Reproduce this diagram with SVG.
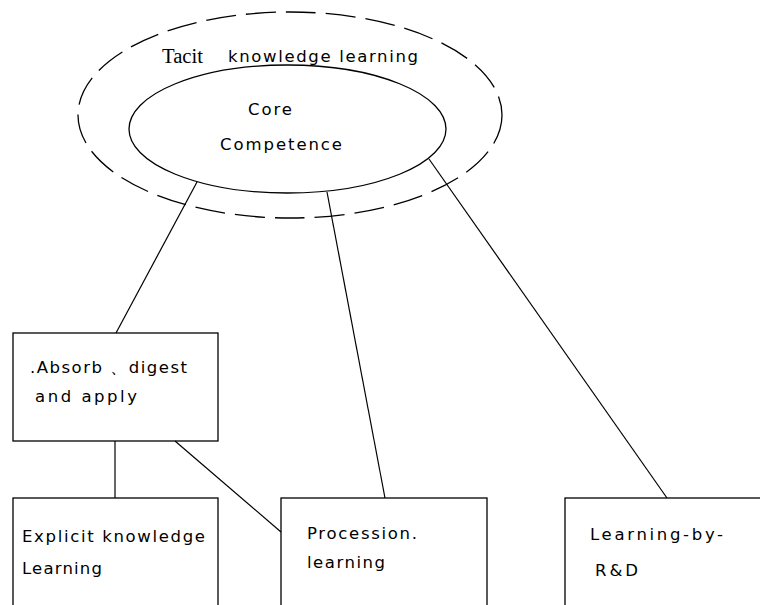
<svg xmlns="http://www.w3.org/2000/svg" width="760" height="605" viewBox="0 0 760 605">
<style>
.shape{fill:none;stroke:#000;stroke-width:1.3}
.dash{fill:none;stroke:#000;stroke-width:1.3;stroke-dasharray:30 10}
.conn line{stroke:#000;stroke-width:1.2}
.t{font-family:"DejaVu Sans","Liberation Sans",sans-serif;font-size:16.5px;fill:#000}
.s{font-family:"Liberation Serif","Times New Roman",serif;font-size:20px;fill:#000}
</style>
<rect width="760" height="605" fill="#fff"/>
<g id="tacit">
<ellipse class="dash" cx="290" cy="115" rx="212" ry="103"/>
<text class="s" x="162" y="63" textLength="41" lengthAdjust="spacingAndGlyphs">Tacit</text>
<text class="t" x="228" y="62" textLength="190" lengthAdjust="spacing">knowledge learning</text>
</g>
<g id="core">
<ellipse class="shape" cx="287.5" cy="129" rx="158.5" ry="64"/>
<text class="t" x="248" y="115" textLength="44" lengthAdjust="spacing">Core</text>
<text class="t" x="220" y="150" textLength="122" lengthAdjust="spacing">Competence</text>
</g>
<g id="conn" class="conn">
<line x1="197" y1="182" x2="116" y2="333"/>
<line x1="327" y1="192" x2="385" y2="498"/>
<line x1="429" y1="159" x2="667" y2="498"/>
<line x1="115" y1="441" x2="115" y2="498"/>
<line x1="175" y1="441" x2="281" y2="532"/>
</g>
<g id="absorb">
<rect class="shape" x="13" y="333" width="205" height="108"/>
<text class="t" x="30" y="373" textLength="157" lengthAdjust="spacing">.Absorb 、digest</text>
<text class="t" x="35" y="402" textLength="102" lengthAdjust="spacing">and apply</text>
</g>
<g id="explicit">
<rect class="shape" x="13" y="498" width="205" height="120"/>
<text class="t" x="22" y="542" textLength="183" lengthAdjust="spacing">Explicit knowledge</text>
<text class="t" x="22" y="574" textLength="80" lengthAdjust="spacing">Learning</text>
</g>
<g id="procession">
<rect class="shape" x="281" y="498" width="206" height="120"/>
<text class="t" x="307" y="539" textLength="110" lengthAdjust="spacing">Procession.</text>
<text class="t" x="307" y="568" textLength="78" lengthAdjust="spacing">learning</text>
</g>
<g id="rd">
<rect class="shape" x="565" y="498" width="210" height="120"/>
<text class="t" x="590" y="540" textLength="133" lengthAdjust="spacing">Learning-by-</text>
<text class="t" x="595" y="576" textLength="43" lengthAdjust="spacing">R&amp;D</text>
</g>
</svg>
